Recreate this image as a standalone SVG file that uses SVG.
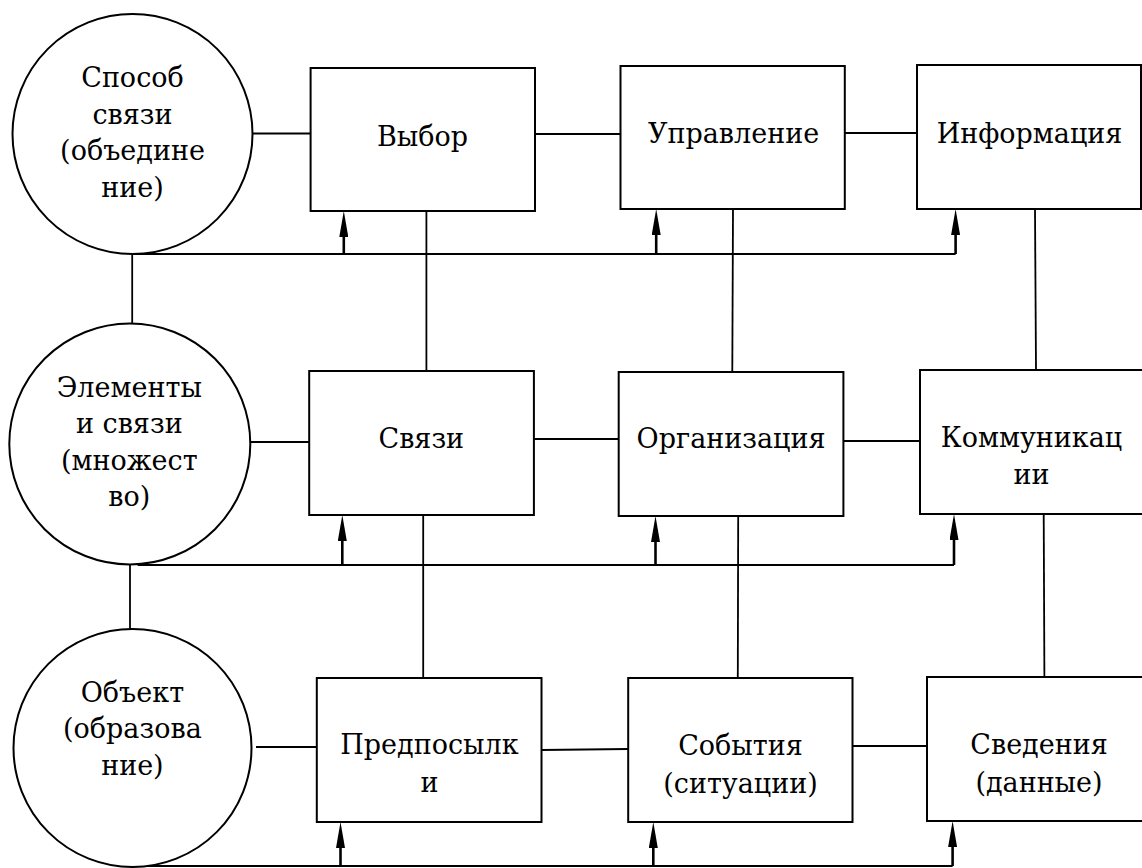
<svg xmlns="http://www.w3.org/2000/svg" width="1142" height="868" viewBox="0 0 1142 868">
<defs>
<style>
.box{fill:#fff;stroke:#000;stroke-width:2}
.ln{stroke:#000;stroke-width:1.8;fill:none}
.ar{stroke:#000;stroke-width:2.6;fill:none}
text{font-size:27px;text-anchor:middle;fill:#000}
</style>
<marker id="ah" viewBox="0 0 26 9" refX="6" refY="4.5" markerWidth="26" markerHeight="9" markerUnits="userSpaceOnUse" orient="auto">
<path d="M0,0 L26,4.5 L0,9 Z" fill="#000"/>
</marker>
</defs>
<rect width="1142" height="868" fill="#fff"/>
<g id="connectors">
<line class="ln" x1="252" y1="133.5" x2="310.6" y2="133.5"/>
<line class="ln" x1="535" y1="134" x2="620.5" y2="134"/>
<line class="ln" x1="845" y1="133" x2="917" y2="133"/>
<line class="ln" x1="132.2" y1="254" x2="132.2" y2="324"/>
<line class="ln" x1="133" y1="254" x2="955.6" y2="254"/>
<line class="ln" x1="426.4" y1="211" x2="426.4" y2="371"/>
<line class="ln" x1="733" y1="209" x2="732.3" y2="372"/>
<line class="ln" x1="1035" y1="209" x2="1036" y2="370"/>
<line class="ln" x1="250.5" y1="442" x2="309.2" y2="442"/>
<line class="ln" x1="534" y1="439" x2="618.7" y2="439"/>
<line class="ln" x1="843.4" y1="441" x2="920" y2="441"/>
<line class="ln" x1="130" y1="564" x2="130" y2="629"/>
<line class="ln" x1="137.7" y1="565" x2="954" y2="565"/>
<line class="ln" x1="423.2" y1="515" x2="423.2" y2="678"/>
<line class="ln" x1="738.2" y1="516" x2="737.8" y2="678"/>
<line class="ln" x1="1043.7" y1="514" x2="1044.4" y2="677"/>
<line class="ln" x1="256" y1="747" x2="316.8" y2="747"/>
<line class="ln" x1="541.5" y1="750" x2="628.2" y2="749"/>
<line class="ln" x1="852.5" y1="746" x2="927" y2="746"/>
<line class="ln" x1="135.5" y1="866" x2="952.6" y2="866"/>
<line class="ar" marker-end="url(#ah)" x1="343.8" y1="254" x2="343.8" y2="231"/>
<line class="ar" marker-end="url(#ah)" x1="656.2" y1="254" x2="656.2" y2="229"/>
<line class="ar" marker-end="url(#ah)" x1="955.6" y1="254" x2="955.6" y2="229"/>
<line class="ar" marker-end="url(#ah)" x1="342.3" y1="565" x2="342.3" y2="535"/>
<line class="ar" marker-end="url(#ah)" x1="655.5" y1="565" x2="655.5" y2="536"/>
<line class="ar" marker-end="url(#ah)" x1="954" y1="565" x2="954" y2="534"/>
<line class="ar" marker-end="url(#ah)" x1="340.5" y1="866" x2="340.5" y2="842"/>
<line class="ar" marker-end="url(#ah)" x1="653.3" y1="866" x2="653.3" y2="842"/>
<line class="ar" marker-end="url(#ah)" x1="952.6" y1="866" x2="952.6" y2="841"/>
</g>
<g id="n-sposob">
<circle class="box" cx="132.5" cy="134" r="120"/>
<text x="132.5" y="87" font-family="DejaVu Serif">Способ</text>
<text x="132.5" y="123.5" font-family="DejaVu Serif">связи</text>
<text x="132.5" y="160" font-family="DejaVu Serif">(объедине</text>
<text x="132.5" y="196.5" font-family="DejaVu Serif">ние)</text>
</g>
<g id="n-vybor">
<rect class="box" x="310.6" y="68" width="224.4" height="143"/>
<text x="422.5" y="146" font-family="DejaVu Serif">Выбор</text>
</g>
<g id="n-upravlenie">
<rect class="box" x="620.5" y="66" width="224.3" height="143"/>
<text x="733.6" y="143" font-family="DejaVu Serif">Управление</text>
</g>
<g id="n-informacia">
<rect class="box" x="917" y="65" width="224" height="144"/>
<text x="1029.5" y="143" font-family="DejaVu Serif">Информация</text>
</g>
<g id="n-elementy">
<circle class="box" cx="129.8" cy="444" r="120.5"/>
<text x="129.3" y="396.5" font-family="DejaVu Serif">Элементы</text>
<text x="129.3" y="433" font-family="DejaVu Serif">и связи</text>
<text x="129.3" y="469.5" font-family="DejaVu Serif">(множест</text>
<text x="129.3" y="506" font-family="DejaVu Serif">во)</text>
</g>
<g id="n-svyazi">
<rect class="box" x="309.2" y="371" width="224.7" height="144"/>
<text x="421.3" y="448" font-family="DejaVu Serif">Связи</text>
</g>
<g id="n-organizacia">
<rect class="box" x="618.7" y="372" width="224.7" height="144"/>
<text x="731" y="448" font-family="DejaVu Serif">Организация</text>
</g>
<g id="n-kommunikacii">
<rect class="box" x="920" y="370" width="225" height="144"/>
<text x="1031.5" y="447" font-family="DejaVu Serif">Коммуникац</text>
<text x="1031.5" y="484" font-family="DejaVu Serif">ии</text>
</g>
<g id="n-obekt">
<circle class="box" cx="132.5" cy="748" r="119"/>
<text x="132.4" y="702" font-family="DejaVu Serif">Объект</text>
<text x="132.4" y="738" font-family="DejaVu Serif">(образова</text>
<text x="132.4" y="775" font-family="DejaVu Serif">ние)</text>
</g>
<g id="n-predposylki">
<rect class="box" x="316.8" y="678" width="224.7" height="144"/>
<text x="429.4" y="754" font-family="DejaVu Serif">Предпосылк</text>
<text x="429.4" y="792" font-family="DejaVu Serif">и</text>
</g>
<g id="n-sobytia">
<rect class="box" x="628.2" y="678" width="224.3" height="144"/>
<text x="740.5" y="755" font-family="DejaVu Serif">События</text>
<text x="740.5" y="793" font-family="DejaVu Serif">(ситуации)</text>
</g>
<g id="n-svedenia">
<rect class="box" x="927" y="677" width="225" height="144"/>
<text x="1039" y="754" font-family="DejaVu Serif">Сведения</text>
<text x="1039" y="792" font-family="DejaVu Serif">(данные)</text>
</g>
</svg>
